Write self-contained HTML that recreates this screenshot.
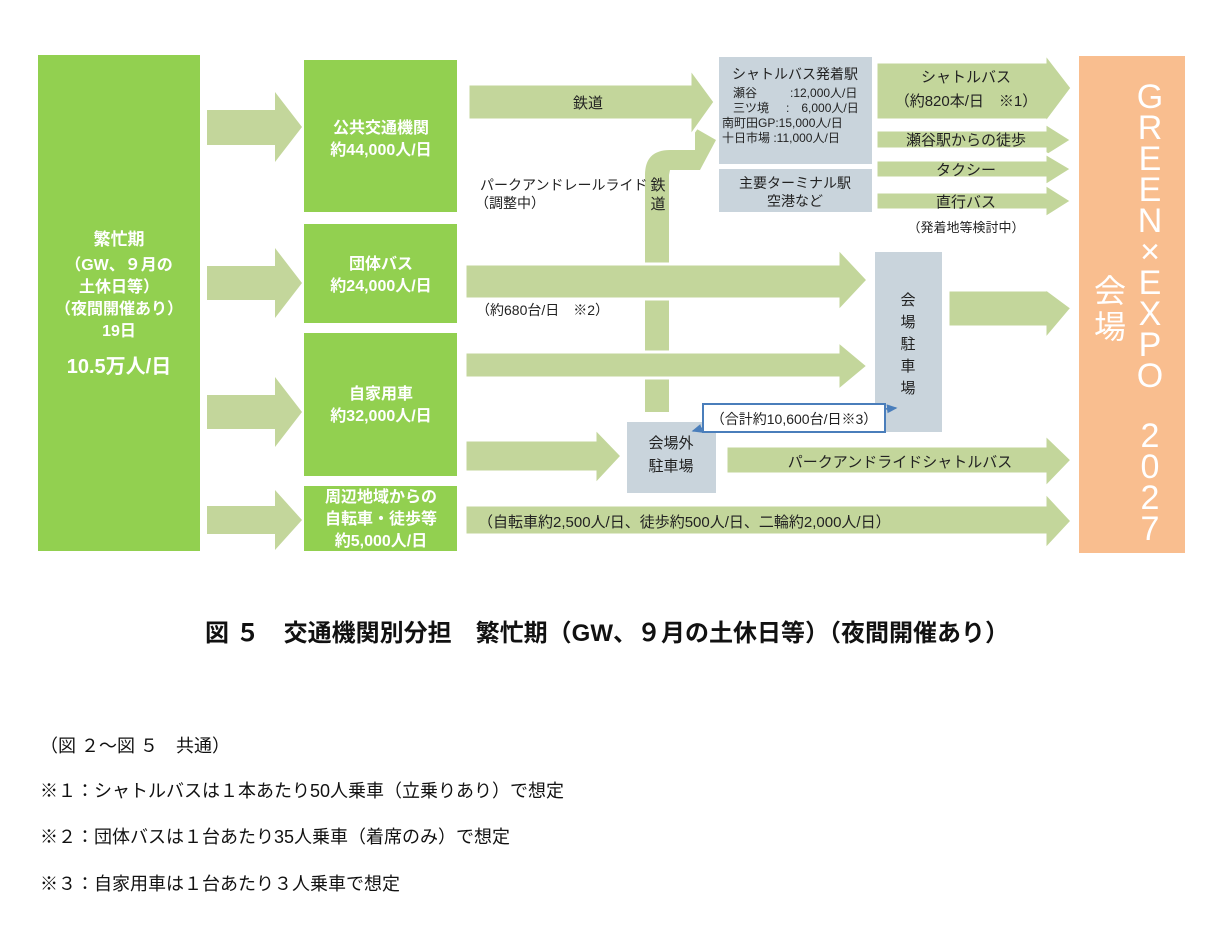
<!DOCTYPE html>
<html><head><meta charset="utf-8"><style>
body{margin:0;background:#fff;width:1222px;height:931px;overflow:hidden}
svg text{font-family:"Liberation Sans","Noto Sans CJK JP",sans-serif}
</style></head><body>
<svg width="1222" height="931" xmlns="http://www.w3.org/2000/svg">
<defs>
<marker id="bh" markerWidth="8" markerHeight="8" refX="6" refY="3" orient="auto"><path d="M0,0 L7,3 L0,6z" fill="#4a7ebb"/></marker>
</defs>
<g fill="#c3d69b">
<polygon points="207,110 275,110 275,92 302,127 275,162 275,145 207,145"/>
<polygon points="207,266 275,266 275,248 302,283 275,318 275,300 207,300"/>
<polygon points="207,395 275,395 275,377 302,412 275,447 275,429 207,429"/>
<polygon points="207,506 275,506 275,490 302,520 275,550 275,534 207,534"/>
<path d="M645,412 L645,175 Q645,150 670,150 L695,150 L695,128 L716,140 L700,170 L670,170 L669,175 L669,412 Z"/>
</g>
<g fill="#c3d69b" stroke="#fff" stroke-width="3">
<polygon points="468,84 690,84 690,68 715,102 690,137 690,120 468,120"/>
<polygon points="465,264 838,264 838,248 868,280 838,312 838,299 465,299"/>
<polygon points="465,352 838,352 838,341 868,366 838,391 838,378 465,378"/>
<polygon points="465,440 595,440 595,428 622,456 595,485 595,472 465,472"/>
<polygon points="465,505 1045,505 1045,492 1072,521 1045,550 1045,535 465,535"/>
<polygon points="948,290 1045,290 1045,288 1072,308 1045,340 1045,327 948,327"/>
<polygon points="726,446 1045,446 1045,434 1072,460 1045,488 1045,474 726,474"/>
<polygon points="876,62 1045,62 1045,53 1072,88 1045,124 1045,120 876,120"/>
<polygon points="876,130 1045,130 1045,123 1072,140 1045,157 1045,149 876,149"/>
<polygon points="876,160 1045,160 1045,153 1072,169 1045,186 1045,178 876,178"/>
<polygon points="876,192 1045,192 1045,184 1072,201 1045,218 1045,210 876,210"/>
</g>
<g fill="#92d050">
<rect x="38" y="55" width="162" height="496"/>
<rect x="304" y="60" width="153" height="152"/>
<rect x="304" y="224" width="153" height="99"/>
<rect x="304" y="333" width="153" height="143"/>
<rect x="304" y="486" width="153" height="65"/>
</g>
<g fill="#c9d4dc">
<rect x="719" y="57" width="153" height="107"/>
<rect x="719" y="169" width="153" height="43"/>
<rect x="875" y="252" width="67" height="180"/>
<rect x="627" y="422" width="89" height="71"/>
</g>
<rect x="1079" y="56" width="106" height="497" fill="#f9be8f"/>
<g fill="#fff" font-weight="bold" text-anchor="middle" font-size="16">
<text x="119" y="245" font-size="17">繁忙期</text>
<text x="119" y="270">（GW、９月の</text>
<text x="119" y="292">土休日等）</text>
<text x="119" y="314">（夜間開催あり）</text>
<text x="119" y="336">19日</text>
<text x="119" y="373" font-size="20">10.5万人/日</text>
<text x="381" y="133">公共交通機関</text>
<text x="381" y="155">約44,000人/日</text>
<text x="381" y="269">団体バス</text>
<text x="381" y="291">約24,000人/日</text>
<text x="381" y="399">自家用車</text>
<text x="381" y="421">約32,000人/日</text>
<text x="381" y="502">周辺地域からの</text>
<text x="381" y="524">自転車・徒歩等</text>
<text x="381" y="546">約5,000人/日</text>
</g>
<g fill="#222" text-anchor="middle" font-size="15">
<text x="588" y="108">鉄道</text>
<text x="795" y="79" font-size="14">シャトルバス発着駅</text>
<text x="795" y="188" font-size="14">主要ターミナル駅</text>
<text x="795" y="206" font-size="14">空港など</text>
<text x="966" y="82">シャトルバス</text>
<text x="966" y="106">（約820本/日　※1）</text>
<text x="966" y="145">瀬谷駅からの徒歩</text>
<text x="966" y="175">タクシー</text>
<text x="966" y="207">直行バス</text>
<text x="966" y="232" font-size="13">（発着地等検討中）</text>
<text x="671" y="448">会場外</text>
<text x="671" y="471">駐車場</text>
<text x="900" y="467">パークアンドライドシャトルバス</text>
<text x="908" y="305">会</text><text x="908" y="327">場</text><text x="908" y="349">駐</text><text x="908" y="371">車</text><text x="908" y="393">場</text>
<text x="658" y="190">鉄</text><text x="658" y="209">道</text>
</g>
<g fill="#222" font-size="12">
<text x="733" y="97">瀬谷</text><text x="790" y="97">:12,000人/日</text>
<text x="733" y="112">三ツ境</text><text x="786" y="112">:　6,000人/日</text>
<text x="722" y="127">南町田GP:15,000人/日</text>
<text x="722" y="142">十日市場 :11,000人/日</text>
</g>
<g fill="#222" font-size="14">
<text x="480" y="190">パークアンドレールライド</text>
<text x="475" y="208">（調整中）</text>
<text x="476" y="315">（約680台/日　※2）</text>
<text x="478" y="527" font-size="15">（自転車約2,500人/日、徒歩約500人/日、二輪約2,000人/日）</text>
</g>
<rect x="703" y="404" width="182" height="28" fill="#fff" stroke="#4a7ebb" stroke-width="2"/>
<text x="794" y="424" font-size="14" fill="#222" text-anchor="middle">（合計約10,600台/日※3）</text>
<line x1="703" y1="428" x2="693" y2="431" stroke="#4a7ebb" stroke-width="1.5" marker-end="url(#bh)"/>
<line x1="885" y1="409" x2="896" y2="408" stroke="#4a7ebb" stroke-width="1.5" marker-end="url(#bh)"/>
<g fill="#fff" font-size="34" text-anchor="middle">
<text x="1150" y="108">G</text><text x="1150" y="139">R</text><text x="1150" y="170">E</text><text x="1150" y="201">E</text><text x="1150" y="232">N</text><text x="1150" y="263">×</text><text x="1150" y="294">E</text><text x="1150" y="325">X</text><text x="1150" y="356">P</text><text x="1150" y="387">O</text>
<text x="1150" y="447">2</text><text x="1150" y="478">0</text><text x="1150" y="509">2</text><text x="1150" y="540">7</text>
<text x="1110" y="302" font-size="32">会</text><text x="1110" y="338" font-size="32">場</text>
</g>
<text x="607" y="641" font-size="24" font-weight="bold" fill="#111" text-anchor="middle">図 ５　交通機関別分担　繁忙期（GW、９月の土休日等）（夜間開催あり）</text>
<g fill="#111" font-size="18">
<text x="40" y="752">（図 ２～図 ５　共通）</text>
<text x="40" y="797">※１：シャトルバスは１本あたり50人乗車（立乗りあり）で想定</text>
<text x="40" y="843">※２：団体バスは１台あたり35人乗車（着席のみ）で想定</text>
<text x="40" y="890">※３：自家用車は１台あたり３人乗車で想定</text>
</g>
</svg>
</body></html>
